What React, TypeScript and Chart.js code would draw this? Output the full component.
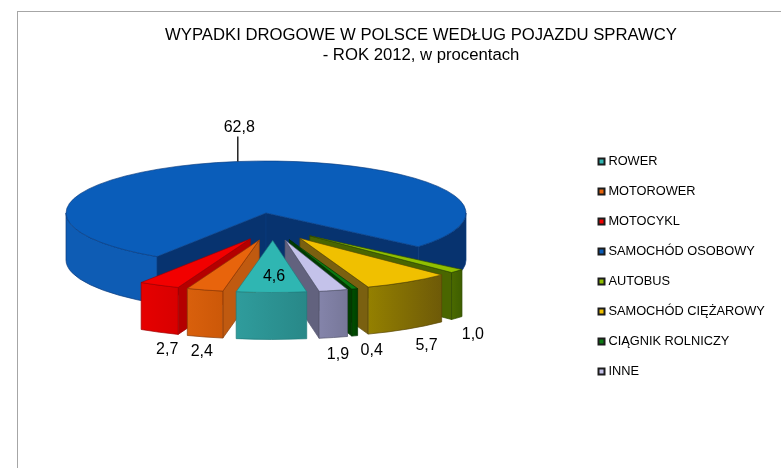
import { useEffect, useRef } from "react";
import { Chart, registerables } from "chart.js";

Chart.register(...registerables);

const categories = ["ROWER", "MOTOROWER", "MOTOCYKL", "SAMOCHÓD OSOBOWY", "AUTOBUS", "SAMOCHÓD CIĘŻAROWY", "CIĄGNIK ROLNICZY", "INNE"];
const values = [4.6, 2.4, 2.7, 62.8, 1.0, 5.7, 0.4, 1.9];
const valueLabels = ["4,6", "2,4", "2,7", "62,8", "1,0", "5,7", "0,4", "1,9"];
const exploded = [true, true, true, false, true, true, true, true];
const topColors = ["#2fb6b2", "#e8640c", "#f20000", "#0a5dba", "#90c000", "#f0c000", "#0a7a12", "#c4c2ea"];
const wallFrom = ["#2f9c9c", "#d9600c", "#e60000", "#0e5cb4", "#4a6a00", "#948000", "#004f00", "#8484aa"];
const wallTo = ["#288888", "#cc5808", "#d80000", "#0e5cb4", "#3e5e00", "#6e5a08", "#004000", "#777799"];
const cutColors = ["#2a8e8e", "#c05a10", "#b40000", "#07336f", "#4a6600", "#7a6010", "#003c00", "#62627e"];
const edgeColors = ["#1f7c7c", "#8a3c08", "#a00000", "#083a7c", "#2f4a00", "#5a4806", "#003000", "#55556e"];
const labelNudgeX = [2.6, -3, 8, 2, 16, 19, 17, 4.5];
const labelNudgeY = [-62.5, 15, 17, -34, 17, 17, 15, 17.4];

const CX = 266;
const CY = 213;
const SQUASH = 0.26;
const DEPTH = 47;
const TITLE_CENTRE = 421;
const LEGEND_X = 601;
const LEGEND_TOP = 155;

function explodeOffset(i: number, mid: number) {
  if (!exploded[i]) return { x: 0, y: 0 };
  return { x: 7 + 50 * Math.cos(mid), y: 13 + 14.5 * Math.sin(mid) };
}

const pie3d = {
  id: "pie3d",
  beforeDraw(chart: any) {
    const { ctx, width, height } = chart;
    ctx.save();
    ctx.fillStyle = "#ffffff";
    ctx.fillRect(0, 0, width, height);
    ctx.strokeStyle = "#a6a6a6";
    ctx.lineWidth = 1;
    ctx.strokeRect(17.5, 11.5, width + 40, height + 40);
    ctx.restore();
    const t = chart.titleBlock;
    t.left = TITLE_CENTRE - width / 2;
    t.right = TITLE_CENTRE + width / 2;
    const pad = chart.legend.options.labels.padding;
    chart.legend.left = LEGEND_X - pad;
    chart.legend.right = chart.legend.left + chart.legend.width;
    chart.legend.top = LEGEND_TOP - pad;
    chart.legend.bottom = chart.legend.top + chart.legend.height;
  },
  beforeDatasetsDraw(chart: any) {
    const { ctx } = chart;
    const arcs = chart.getDatasetMeta(0).data as any[];
    const order = arcs
      .map((arc: any, i: number) => ({ arc, i }))
      .sort((a: any, b: any) => {
        const rank = (o: any) => {
          if (!exploded[o.i]) return -1000;
          const m = (o.arc.startAngle + o.arc.endAngle) / 2;
          return Math.abs(Math.cos(m)) * -1;
        };
        return rank(a) - rank(b);
      });
    for (const { arc, i } of order) {
      const a0 = arc.startAngle;
      const a1 = arc.endAngle;
      const mid = (a0 + a1) / 2;
      const off = explodeOffset(i, mid);
      const x = CX + off.x;
      const y = CY + off.y;
      const R = arc.outerRadius;
      const ry = R * SQUASH;
      const pt = (a: number) => ({ x: x + R * Math.cos(a), y: y + ry * Math.sin(a) });

      // radial cut walls: only those facing the viewer
      const walls: number[] = [];
      if (Math.cos(a0) < 0) walls.push(a0);
      if (Math.cos(a1) > 0) walls.push(a1);
      for (const a of walls) {
        const p = pt(a);
        ctx.beginPath();
        ctx.moveTo(x, y);
        ctx.lineTo(p.x, p.y);
        ctx.lineTo(p.x, p.y + DEPTH);
        ctx.lineTo(x, y + DEPTH);
        ctx.closePath();
        ctx.fillStyle = cutColors[i];
        ctx.fill();
        ctx.strokeStyle = edgeColors[i];
        ctx.lineWidth = 0.7;
        ctx.stroke();
      }

      // outer wall, front half only
      const twoPi = Math.PI * 2;
      for (const k of [0, 1]) {
        const from = Math.max(a0, k * twoPi);
        const to = Math.min(a1, Math.PI + k * twoPi);
        if (to <= from) continue;
        const p = pt(from);
        const q = pt(to);
        const g = ctx.createLinearGradient(Math.min(p.x, q.x), 0, Math.max(p.x, q.x), 0);
        g.addColorStop(0, wallFrom[i]);
        g.addColorStop(1, wallTo[i]);
        ctx.beginPath();
        ctx.ellipse(x, y, R, ry, 0, from, to);
        ctx.lineTo(q.x, q.y + DEPTH);
        ctx.ellipse(x, y + DEPTH, R, ry, 0, to, from, true);
        ctx.closePath();
        ctx.fillStyle = i === 3 && k === 1 ? cutColors[i] : g;
        ctx.fill();
        ctx.strokeStyle = edgeColors[i];
        ctx.lineWidth = 0.7;
        ctx.stroke();
      }

      // top face: the library's own arc element under a squashing transform
      ctx.save();
      ctx.translate(x, y);
      ctx.scale(1, SQUASH);
      ctx.translate(-arc.x, -arc.y);
      arc.draw(ctx);
      ctx.restore();
    }

    // value labels
    ctx.save();
    ctx.fillStyle = "#000000";
    ctx.font = "16px 'Liberation Sans'";
    ctx.textAlign = "center";
    ctx.textBaseline = "middle";
    arcs.forEach((arc: any, i: number) => {
      const mid = (arc.startAngle + arc.endAngle) / 2;
      const off = explodeOffset(i, mid);
      const R = arc.outerRadius;
      const s = Math.sin(mid);
      const ax = CX + off.x + R * Math.cos(mid);
      const ay = CY + off.y + R * SQUASH * s + (s > 0 ? DEPTH : 0);
      if (s < 0) {
        ctx.beginPath();
        ctx.moveTo(ax + 0.5, ay);
        ctx.lineTo(ax + 0.5, ay - 25);
        ctx.strokeStyle = "#222222";
        ctx.lineWidth = 1.5;
        ctx.stroke();
      }
      ctx.fillText(valueLabels[i], ax + labelNudgeX[i], ay + labelNudgeY[i]);
    });
    ctx.restore();
    return false;
  },
};

export default function App() {
  const ref = useRef<HTMLCanvasElement>(null);
  useEffect(() => {
    document.body.style.margin = "0";
    const chart = new Chart(ref.current!, {
      type: "pie",
      data: {
        labels: categories,
        datasets: [
          {
            data: values,
            backgroundColor: topColors,
            borderColor: edgeColors,
            borderWidth: 1,
            borderJoinStyle: "miter",
            radius: 200,
            rotation: 170.2,
          } as any,
        ],
      },
      options: {
        responsive: false,
        animation: false,
        layout: { padding: 0 },
        plugins: {
          tooltip: { enabled: false },
          title: {
            display: true,
            text: ["WYPADKI DROGOWE W POLSCE WEDŁUG POJAZDU SPRAWCY", "- ROK 2012, w procentach"],
            color: "#000000",
            font: { family: "'Liberation Sans'", size: 16.7, weight: "normal", lineHeight: 1.2 },
            padding: { top: 25, bottom: 10 },
          },
          legend: {
            position: "right",
            align: "start",
            labels: {
              color: "#000000",
              font: { family: "'Liberation Sans'", size: 12.8 },
              usePointStyle: true,
              pointStyle: "rect",
              boxWidth: 1,
              boxHeight: 6,
              padding: 17.2,
              generateLabels: () =>
                categories.map((text, i) => ({
                  text,
                  fillStyle: topColors[i],
                  strokeStyle: "#1c1c1c",
                  lineWidth: 2,
                  pointStyle: "rect",
                  index: i,
                  hidden: false,
                })),
            },
          },
        },
      },
      plugins: [pie3d],
    } as any);
    return () => chart.destroy();
  }, []);
  return <canvas ref={ref} width={781} height={468} style={{ display: "block", width: 781, height: 468 }} />;
}
